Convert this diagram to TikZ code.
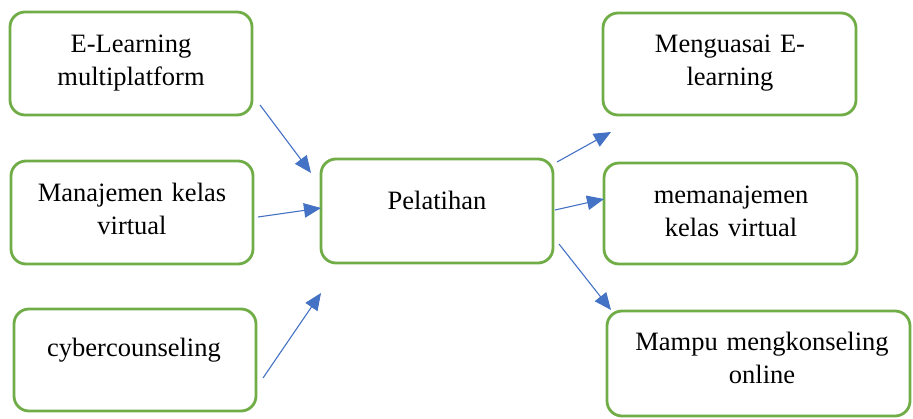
\documentclass[tikz,border=0pt]{standalone}
\usepackage{fontspec}
\setmainfont{Liberation Serif}
\usetikzlibrary{arrows.meta}
\definecolor{boxgreen}{HTML}{70AD47}
\definecolor{arrblue}{HTML}{4472C4}
\begin{document}
\begin{tikzpicture}[x=1pt,y=-1pt,
  box/.style={draw=boxgreen, line width=2.8pt, rounded corners=15pt, inner sep=0pt, fill=white},
  txt/.style={anchor=base, align=center, text width=300pt, inner sep=0pt, font=\fontsize{26.5}{33}\selectfont},
  arr/.style={draw=arrblue, line width=1.1pt, -{Triangle[length=17pt,width=14.5pt]}}]
\useasboundingbox (0,0) rectangle (913,419);
% boxes
\node[box, minimum width=242pt, minimum height=103pt] (b1) at (131,63.5) {};
\node[box, minimum width=242pt, minimum height=103pt] (b2) at (132,212.5) {};
\node[box, minimum width=242pt, minimum height=102pt] (b3) at (135,360) {};
\node[box, minimum width=232pt, minimum height=104pt] (bp) at (437,211) {};
\node[box, minimum width=253pt, minimum height=102pt] (b5) at (729.5,64) {};
\node[box, minimum width=253pt, minimum height=101pt] (b6) at (730.5,213.5) {};
\node[box, minimum width=303pt, minimum height=105pt] (b7) at (758.5,363.5) {};
% texts
\node[txt] (t1) at (131,53) {E-Learning\\multiplatform};
\node[txt] (t2) at (132,202) {Manajemen kelas\\virtual};
\node[txt] (t3) at (134,357) {cybercounseling};
\node[txt] (tp) at (437,210) {Pelatihan};
\node[txt] (t5) at (730,53) {Menguasai E-\\learning};
\node[txt] (t6) at (731,204) {memanajemen\\kelas virtual};
\node[txt] (t7) at (762,351) {Mampu mengkonseling\\online};
% arrow ends
\coordinate (a1s) at (260,105);
\coordinate (a1e) at (311,173);
\coordinate (a2s) at (258,217);
\coordinate (a2e) at (321,208);
\coordinate (a3s) at (263,378);
\coordinate (a3e) at (321,293);
\coordinate (a4s) at (557,162);
\coordinate (a4e) at (611,132);
\coordinate (a5s) at (555,210);
\coordinate (a5e) at (604,199);
\coordinate (a6s) at (559,244);
\coordinate (a6e) at (611,310);
\draw[arr] (a1s) -- (a1e);
\draw[arr] (a2s) -- (a2e);
\draw[arr] (a3s) -- (a3e);
\draw[arr] (a4s) -- (a4e);
\draw[arr] (a5s) -- (a5e);
\draw[arr] (a6s) -- (a6e);
\end{tikzpicture}
\end{document}
